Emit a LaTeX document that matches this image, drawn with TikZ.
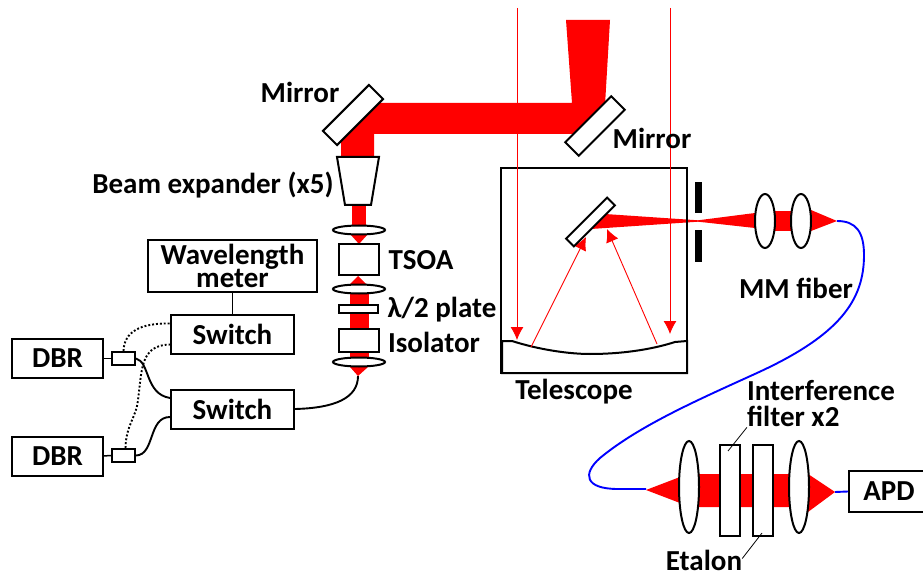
\documentclass[tikz,border=0pt]{standalone}
\usepackage{fontspec}
\setmainfont{Carlito}
\usetikzlibrary{shapes.geometric,arrows.meta}
\definecolor{beamred}{RGB}{255,0,0}
\definecolor{fiberblue}{RGB}{0,0,255}
\tikzset{
  box/.style={draw, line width=2pt, fill=white, inner sep=0pt},
  lbl/.style={inner sep=0pt, align=center, font=\bfseries\fontsize{29}{23.5}\selectfont},
  lens/.style={ellipse, draw, line width=2pt, fill=white, inner sep=0pt},
  ray/.style={beamred, line width=0.9pt, -{Latex[length=13pt,width=13pt]}},
  fiber/.style={line width=1.9pt},
  leader/.style={line width=0.8pt}
}
\begin{document}
\begin{tikzpicture}[x=1pt, y=-1pt]
  \clip (0,0) rectangle (923,577);
  \fill[white] (0,0) rectangle (923,577);
  % Laser beam going up the launch path
  \fill[beamred] (566,20) -- (610,20) -- (605,105) -- (590,134) -- (374,134) -- (374,157) -- (341,157)
    -- (341,130) -- (360,103) -- (572,103) -- cycle;
  \fill[beamred] (352,205) rectangle (366,228);
  \fill[beamred] (350,234) -- (368,234) -- (359,244) -- cycle;
  \fill[beamred] (358,276) -- (349,285) -- (367,285) -- cycle;
  \fill[beamred] (350,285) rectangle (369,362);
  \fill[beamred] (350,367) -- (368,367) -- (358,376) -- cycle;
  % Received beam
  \fill[beamred] (605,214) -- (698,220.3) -- (755,213) -- (755,228) -- (698,221.7) -- (591,229) -- cycle;
  \fill[beamred] (765,211) rectangle (801,231);
  \fill[beamred] (811,210) -- (837,221) -- (811,231) -- cycle;
  \fill[beamred] (646,490) -- (680,477) -- (680,474) -- (808,474) -- (835,492) -- (808,512) -- (808,507) -- (680,507) -- (680,503) -- cycle;
  % Telescope
  \node[box, fill=none, minimum width=186pt, minimum height=205pt] (scope) at (594,270.5) {};
  \draw[line width=2pt, fill=white] (502,373) -- (502,341) -- (512,341) .. controls (540,350) and (570,354) .. (590,354)
    .. controls (620,354) and (650,350) .. (675,342) -- (687,341) -- (687,373) -- cycle;
  % Boxes on the launch side
  \node[box, minimum width=169pt, minimum height=52pt, lbl] (wlm) at (232.5,266) {Wavelength\\meter};
  \node[box, minimum width=123pt, minimum height=39pt, lbl] (swA) at (232.5,334.5) {Switch};
  \node[box, minimum width=123pt, minimum height=39pt, lbl] (swB) at (232.5,409) {Switch};
  \node[box, minimum width=91pt, minimum height=39pt, lbl] (dbrA) at (57.5,358.5) {DBR};
  \node[box, minimum width=91pt, minimum height=39pt, lbl] (dbrB) at (57.5,456.5) {DBR};
  \node[box, minimum width=23pt, minimum height=13pt] (cplA) at (123.5,358.5) {};
  \node[box, minimum width=23pt, minimum height=13pt] (cplB) at (123.5,455.5) {};
  \coordinate (launch) at (358,376);
  \draw[line width=1.5pt] (wlm) -- (swA);
  \draw[line width=1.5pt] (dbrA) -- (cplA);
  \draw[line width=1.5pt] (dbrB) -- (cplB);
  \draw[fiber] (cplA.east) .. controls (150,362) and (145,394) .. ([yshift=11pt]swB.west);
  \draw[fiber] (cplB.east) .. controls (155,455) and (148,417) .. ([yshift=-8pt]swB.west);
  \draw[fiber] (swB.east) .. controls (335,408) and (358,398) .. (launch);
  % Fibers to the wavelength meter switch
  \draw[fiber, dotted] (cplA.north) .. controls (124,332) and (140,323) .. ([yshift=11pt]swA.west);
  \draw[fiber, dotted] ([xshift=2pt]cplB.north) .. controls (126,425) and (136,418) .. (138,400)
    .. controls (142,370) and (140,345) .. ([yshift=-10pt]swA.west);
  % Optics on the launch side
  \node[box, minimum width=65pt, minimum height=20pt, rotate=45] (mirA) at (353,115) {};
  \node[box, minimum width=65pt, minimum height=19pt, rotate=45] (mirB) at (595,126) {};
  \draw[line width=2pt, fill=white] (337,157) -- (379,157) -- (371,205) -- (345,205) -- cycle;
  \node[lens, minimum width=52pt, minimum height=9pt] (lensA) at (359,230) {};
  \node[lens, minimum width=52pt, minimum height=9pt] (lensB) at (359,289) {};
  \node[lens, minimum width=52pt, minimum height=9pt] (lensC) at (359,362) {};
  \node[box, minimum width=40pt, minimum height=31pt] (tsoa) at (359,259.5) {};
  \node[box, minimum width=39pt, minimum height=8pt] (plate) at (358.5,309) {};
  \node[box, minimum width=40pt, minimum height=23pt] (iso) at (359,340.5) {};
  % Collimated rays and their reflections
  \coordinate (rayA) at (517,8);
  \coordinate (rayB) at (670,8);
  \coordinate (hitA) at (517,340);
  \coordinate (hitB) at (670,334);
  \coordinate (bounceA) at (531,347);
  \coordinate (bounceB) at (657,344);
  \coordinate (secA) at (586,237);
  \coordinate (secB) at (607,229);
  \draw[ray] (rayA) -- (hitA);
  \draw[ray] (rayB) -- (hitB);
  \draw[ray] (bounceA) -- (secA);
  \draw[ray] (bounceB) -- (secB);
  \node[box, minimum width=58pt, minimum height=11pt, rotate=45] (mirC) at (590.5,222) {};
  % Pinhole
  \fill[black] (695,182) rectangle (702,213);
  \fill[black] (695,230) rectangle (702,262);
  % Receiver
  \node[lens, minimum width=20pt, minimum height=54pt] (lensD) at (765,221) {};
  \node[lens, minimum width=20pt, minimum height=54pt] (lensE) at (801,221) {};
  \coordinate (fibA) at (837,221);
  \coordinate (fibB) at (646,489);
  \coordinate (fibC) at (835,492);
  \draw[fiberblue, fiber] (fibA) .. controls (856,221) and (864,232) .. (864,255)
    .. controls (864,300) and (840,335) .. (757,373)
    .. controls (700,399) and (640,425) .. (600,458)
    .. controls (582,474) and (585,489) .. (618,489) -- (fibB);
  \node[lens, minimum width=20pt, minimum height=92pt] (lensF) at (689,487) {};
  \node[lens, minimum width=20pt, minimum height=92pt] (lensG) at (799,487) {};
  \node[box, minimum width=20pt, minimum height=91pt] (ifil) at (730,490.5) {};
  \node[box, minimum width=20pt, minimum height=91pt] (etal) at (763,490.5) {};
  \node[box, minimum width=80pt, minimum height=41pt, lbl] (apd) at (889,491.5) {APD};
  \draw[fiberblue, fiber] (fibC) -- (apd.west);
  % Labels
  \node[lbl] (lblmirA) at (300,92) {Mirror};
  \node[lbl] (lblmirB) at (652,138) {Mirror};
  \node[lbl] (lblbexp) at (213,185) {Beam expander (x5)};
  \node[lbl] (lbltsoa) at (421,260) {TSOA};
  \node[lbl] (lblplate) at (442,310) {λ/2 plate};
  \node[lbl] (lbliso) at (434,342) {Isolator};
  \node[lbl] (lblscope) at (574,392) {Telescope};
  \node[lbl] (lblmm) at (796,288) {MM fiber};
  \node[lbl, align=left] (lblifil) at (821,404) {Interference\\[2.5pt]filter x2};
  \node[lbl] (lbletal) at (704,560.5) {Etalon};
  \coordinate (ifilend) at (728,451);
  \coordinate (etalend) at (762,533);
  \draw[leader] (lblifil.south west) -- (ifilend);
  \draw[leader] ([yshift=2pt]lbletal.east) -- (etalend);
\end{tikzpicture}
\end{document}
